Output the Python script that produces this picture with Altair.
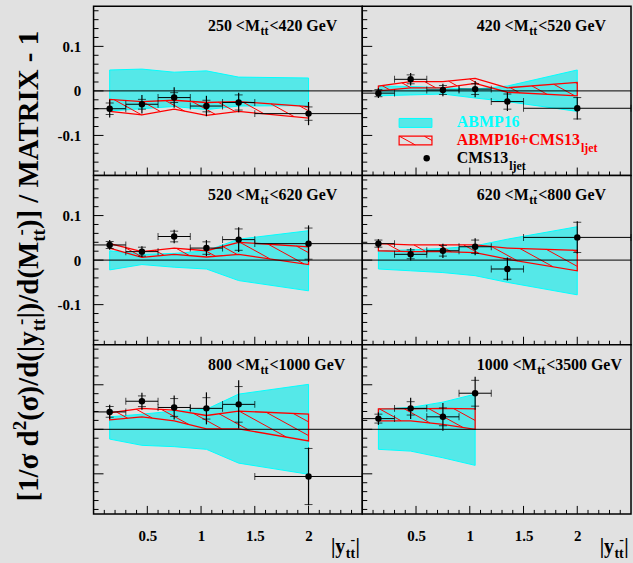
import altair as alt
import numpy as np
import pandas as pd

# ---------------- data ----------------
BIN_LO = [0.0, 0.3, 0.6, 0.9, 1.2, 1.5]
BIN_HI = [0.3, 0.6, 0.9, 1.2, 1.5, 2.5]
BIN_C = [0.15, 0.45, 0.75, 1.05, 1.35, 2.0]

MTT_LO = [250, 420, 520, 620, 800, 1000]
MTT_HI = [420, 520, 620, 800, 1000, 3500]
NBINS = [6, 6, 6, 6, 6, 4]

CMS_VAL = [
    [-0.040, -0.030, -0.015, -0.034, -0.026, -0.051],
    [-0.005, 0.026, 0.002, 0.004, -0.024, -0.039],
    [0.034, 0.019, 0.053, 0.027, 0.046, 0.037],
    [0.037, 0.013, 0.021, 0.030, -0.020, 0.051],
    [0.039, 0.063, 0.049, 0.047, 0.056, -0.106],
    [0.024, 0.047, 0.028, 0.081],
]
CMS_STAT = [
    [0.013, 0.011, 0.011, 0.013, 0.017, 0.015],
    [0.008, 0.010, 0.010, 0.012, 0.017, 0.024],
    [0.008, 0.010, 0.012, 0.014, 0.024, 0.035],
    [0.008, 0.010, 0.012, 0.015, 0.023, 0.034],
    [0.012, 0.012, 0.020, 0.024, 0.040, 0.063],
    [0.010, 0.015, 0.020, 0.029],
]
CMS_TOT = [
    [0.020, 0.021, 0.023, 0.023, 0.022, 0.026],
    [0.011, 0.014, 0.014, 0.018, 0.021, 0.025],
    [0.011, 0.012, 0.015, 0.018, 0.028, 0.041],
    [0.010, 0.014, 0.016, 0.019, 0.026, 0.036],
    [0.016, 0.019, 0.027, 0.036, 0.054, 0.065],
    [0.014, 0.024, 0.031, 0.037],
]
ABMP_UP = [
    [0.047, 0.049, 0.042, 0.045, 0.031, 0.029],
    [0.011, 0.010, 0.007, 0.004, 0.011, 0.047],
    [0.021, 0.013, 0.015, 0.021, 0.047, 0.066],
    [0.021, 0.023, 0.026, 0.032, 0.047, 0.075],
    [0.028, 0.034, 0.041, 0.045, 0.079, 0.101],
    [0.045, 0.049, 0.061, 0.079],
]
ABMP_DN = [
    [-0.045, -0.040, -0.035, -0.042, -0.034, -0.033],
    [-0.011, -0.009, -0.007, -0.016, -0.024, -0.046],
    [-0.022, -0.010, -0.016, -0.020, -0.046, -0.069],
    [-0.020, -0.024, -0.028, -0.035, -0.050, -0.078],
    [-0.022, -0.036, -0.039, -0.045, -0.076, -0.101],
    [-0.045, -0.049, -0.064, -0.081],
]
FIT_UP = [
    [-0.019, -0.024, -0.021, -0.026, -0.024, -0.035],
    [0.011, 0.021, 0.021, 0.028, 0.007, 0.019],
    [0.037, 0.019, 0.027, 0.021, 0.040, 0.030],
    [0.037, 0.034, 0.034, 0.034, 0.027, 0.022],
    [0.037, 0.047, 0.043, 0.031, 0.041, 0.034],
    [0.046, 0.046, 0.047, 0.046],
]
FIT_DN = [
    [-0.046, -0.054, -0.041, -0.055, -0.046, -0.061],
    [0.000, 0.007, 0.007, 0.017, -0.003, -0.011],
    [0.027, 0.006, 0.013, 0.007, 0.013, -0.010],
    [0.021, 0.019, 0.019, 0.017, 0.002, -0.024],
    [0.021, 0.028, 0.019, 0.001, 0.001, -0.026],
    [0.019, 0.019, 0.011, 0.000],
]

X_TICK_VALS = [0.5, 1.0, 1.5, 2.0]
X_TICK_LABELS = ["0.5", "1", "1.5", "2"]
X_MINOR = [0.1, 0.2, 0.3, 0.4, 0.6, 0.7, 0.8, 0.9, 1.1, 1.2, 1.3, 1.4,
           1.6, 1.7, 1.8, 1.9, 2.1, 2.2, 2.3, 2.4]
Y_TICK_VALS = [-0.1, 0.0, 0.1]
Y_TICK_LABELS = ["-0.1", "0", "0.1"]
Y_MINOR = [-0.18, -0.16, -0.14, -0.12, -0.08, -0.06, -0.04, -0.02,
           0.02, 0.04, 0.06, 0.08, 0.12, 0.14, 0.16, 0.18]

LEG_LABELS = ["ABMP16", "ABMP16+CMS13", "CMS13"]
LEG_SUB = "ljet"

# ---------------- style ----------------
FONT = "Liberation Serif"
CYAN = "#00ffff"
CYAN_FILL = "#55e8e8"
RED = "#ff0000"
BG = "#e1e1e1"

W, H = 270, 170
XDOM = [0.0, 2.5]
YDOM = [-0.19, 0.19]
PXX = W / (XDOM[1] - XDOM[0])
PXY = H / (YDOM[1] - YDOM[0])
HATCH_SP = 25.0
HATCH_SLOPE = 0.55

TB = {' ': 250, '<': 570, '-': 333, '+': 570, '.': 250, '/': 278, '(': 333, ')': 333,
      '[': 333, ']': 333, '|': 220, 'A': 722, 'B': 667, 'C': 722, 'G': 778, 'M': 944,
      'P': 611, 'S': 556, 'V': 722, 'R': 722, 'T': 667, 'I': 389, 'X': 722, 'e': 444,
      'd': 556, 't': 333, 'y': 500, 'l': 278, 'j': 333, 'σ': 550}


def tw(s, size):
    return sum(TB.get(c, 500) for c in s) * size / 1000.0


def label_expr(vals, labs):
    s = "''"
    for v, l in reversed(list(zip(vals, labs))):
        s = f"(abs(datum.value - ({v})) < 1e-6 ? '{l}' : {s})"
    return s


def hatch_px(px, ptop, pbot, spacing=HATCH_SP, slope=HATCH_SLOPE):
    px = np.asarray(px, float)
    grid = np.arange(px[0], px[-1] + 1e-6, 0.25)
    gt = np.interp(grid, px, ptop)
    gb = np.interp(grid, px, pbot)
    segs = []
    kmin = int(np.floor((px[0] - gb.max() / slope) / spacing)) - 1
    kmax = int(np.ceil((px[-1] - gt.min() / slope) / spacing)) + 1
    for k in range(kmin, kmax + 1):
        ly = slope * (grid - k * spacing)
        inside = (ly >= gt) & (ly <= gb)
        if not inside.any():
            continue
        idx = np.flatnonzero(inside)
        br = np.flatnonzero(np.diff(idx) > 1)
        starts = np.r_[idx[0], idx[br + 1]]
        ends = np.r_[idx[br], idx[-1]]
        for a, b in zip(starts, ends):
            if grid[b] - grid[a] < 1.0:
                continue
            segs.append((grid[a], ly[a], grid[b], ly[b]))
    return segs


DUMMY = pd.DataFrame({"a": [0]})


def txt(s, x, y, size, color="black", dx=0.0, dy=0.0, angle=0):
    kw = dict(text=s, font=FONT, fontSize=size, fontWeight="bold", color=color,
              align="left", baseline="alphabetic", dx=float(dx), dy=float(dy))
    if angle:
        kw["angle"] = angle
    return alt.Chart(DUMMY).mark_text(**kw).encode(x=alt.value(x), y=alt.value(y))


def build_panel(i):
    n = NBINS[i]
    row, col = divmod(i, 2)
    xs = alt.Scale(domain=XDOM, nice=False, zero=False)
    ys = alt.Scale(domain=YDOM, nice=False, zero=False)
    if row == 2:
        xaxis = alt.Axis(values=X_TICK_VALS, labelExpr=label_expr(X_TICK_VALS, X_TICK_LABELS),
                         ticks=False, domain=False, grid=False, title=None, labelPadding=15,
                         labelFont=FONT, labelFontSize=15, labelFontWeight="bold",
                         labelColor="black")
    else:
        xaxis = None
    if col == 0 and row < 2:
        yaxis = alt.Axis(values=Y_TICK_VALS, labelExpr=label_expr(Y_TICK_VALS, Y_TICK_LABELS),
                         ticks=False, domain=False, grid=False, title=None, labelPadding=13,
                         labelFont=FONT, labelFontSize=15, labelFontWeight="bold",
                         labelColor="black")
    else:
        yaxis = None

    def X(f):
        return alt.X(f, type="quantitative", scale=xs, axis=xaxis)

    def Y(f):
        return alt.Y(f, type="quantitative", scale=ys, axis=yaxis)

    v = np.array(CMS_VAL[i])
    st = np.array(CMS_STAT[i])
    to = np.array(CMS_TOT[i])
    pts = pd.DataFrame({"c": BIN_C[:n], "lo": BIN_LO[:n], "hi": BIN_HI[:n], "v": v,
                        "tlo": v - to, "thi": v + to, "slo": v - st, "shi": v + st})
    band = pd.DataFrame({"c": BIN_C[:n], "aup": ABMP_UP[i], "adn": ABMP_DN[i],
                         "fup": FIT_UP[i], "fdn": FIT_DN[i]})

    segs = hatch_px(np.array(BIN_C[:n]) * PXX,
                    (YDOM[1] - np.array(FIT_UP[i])) * PXY,
                    (YDOM[1] - np.array(FIT_DN[i])) * PXY)
    hdf = pd.DataFrame({"x1": [s[0] / PXX for s in segs], "y1": [YDOM[1] - s[1] / PXY for s in segs],
                        "x2": [s[2] / PXX for s in segs], "y2": [YDOM[1] - s[3] / PXY for s in segs]})

    layers = []
    layers.append(alt.Chart(band).mark_area(fill=CYAN_FILL, stroke=CYAN, strokeWidth=1, opacity=1)
                  .encode(x=X("c"), y=Y("adn"), y2="aup"))
    if len(hdf):
        layers.append(alt.Chart(hdf).mark_rule(color=RED, strokeWidth=1)
                      .encode(x=X("x1"), y=Y("y1"), x2="x2", y2="y2"))
    layers.append(alt.Chart(band).mark_area(fillOpacity=0, stroke=RED, strokeWidth=1.3)
                  .encode(x=X("c"), y=Y("fdn"), y2="fup"))
    layers.append(alt.Chart(pd.DataFrame({"y": [0.0]})).mark_rule(color="black", strokeWidth=1)
                  .encode(y=Y("y")))
    # data points with error bars
    layers.append(alt.Chart(pts).mark_rule(color="black", strokeWidth=1)
                  .encode(x=X("lo"), x2="hi", y=Y("v")))
    for f in ["lo", "hi"]:
        layers.append(alt.Chart(pts).mark_tick(orient="vertical", size=7, thickness=1, color="black")
                      .encode(x=X(f), y=Y("v")))
    layers.append(alt.Chart(pts).mark_rule(color="black", strokeWidth=1.2)
                  .encode(x=X("c"), y=Y("tlo"), y2="thi"))
    for f in ["slo", "shi"]:
        layers.append(alt.Chart(pts).mark_tick(orient="horizontal", size=8, thickness=1, color="black")
                      .encode(x=X("c"), y=Y(f)))
    layers.append(alt.Chart(pts).mark_circle(size=42, color="black", opacity=1)
                  .encode(x=X("c"), y=Y("v")))
    # inner axis ticks
    layers.append(alt.Chart(pd.DataFrame({"t": Y_TICK_VALS})).mark_rule(color="black", strokeWidth=1)
                  .encode(y=Y("t"), x=alt.value(0), x2=alt.value(10)))
    layers.append(alt.Chart(pd.DataFrame({"t": Y_MINOR})).mark_rule(color="black", strokeWidth=1)
                  .encode(y=Y("t"), x=alt.value(0), x2=alt.value(5)))
    layers.append(alt.Chart(pd.DataFrame({"t": X_TICK_VALS})).mark_rule(color="black", strokeWidth=1)
                  .encode(x=X("t"), y=alt.value(H), y2=alt.value(H - 8)))
    layers.append(alt.Chart(pd.DataFrame({"t": X_MINOR})).mark_rule(color="black", strokeWidth=1)
                  .encode(x=X("t"), y=alt.value(H), y2=alt.value(H - 4)))

    # panel title  "lo <M_tt̄<hi GeV"
    m1 = f"{MTT_LO[i]} <M"
    m2 = f"<{MTT_HI[i]} GeV"
    w1 = tw(m1, 16) + 0.5
    layers.append(txt(m1, 115, 25, 16))
    layers.append(txt("tt", 115, 25, 12, dx=w1, dy=4))
    layers.append(txt("-", 115, 25, 12, dx=w1 + tw("t", 12), dy=-6.5))
    layers.append(txt(m2, 115, 25, 16, dx=w1 + tw("tt", 12) + 1))

    # legend in the top-right panel
    if i == 1:
        layers.append(alt.Chart(DUMMY).mark_rect(fill=CYAN_FILL, stroke=CYAN, strokeWidth=1)
                      .encode(x=alt.value(37), x2=alt.value(70), y=alt.value(112.7), y2=alt.value(121.7)))
        for s in hatch_px([37, 70], [130.5, 130.5], [139.3, 139.3]):
            layers.append(alt.Chart(DUMMY).mark_rule(color=RED, strokeWidth=1)
                          .encode(x=alt.value(float(s[0])), y=alt.value(float(s[1])),
                                  x2=alt.value(float(s[2])), y2=alt.value(float(s[3]))))
        layers.append(alt.Chart(DUMMY).mark_rect(fillOpacity=0, stroke=RED, strokeWidth=1.2)
                      .encode(x=alt.value(37), x2=alt.value(70), y=alt.value(130.5), y2=alt.value(139.3)))
        layers.append(alt.Chart(DUMMY).mark_circle(size=42, color="black", opacity=1)
                      .encode(x=alt.value(64.7), y=alt.value(152.7)))
        layers.append(txt(LEG_LABELS[0], 95, 121.7, 16, color=CYAN))
        layers.append(txt(LEG_LABELS[1], 95, 139.3, 16, color=RED))
        layers.append(txt(LEG_SUB, 95, 139.3, 12, color=RED, dx=tw(LEG_LABELS[1], 16) + 1, dy=7))
        layers.append(txt(LEG_LABELS[2], 95, 157.7, 16))
        layers.append(txt(LEG_SUB, 95, 157.7, 12, dx=tw(LEG_LABELS[2], 16) + 1, dy=7))

    # x-axis title |y_tt̄| in bottom panels
    if row == 2:
        bx, by = 238.5, 209
        d = 0.0
        layers.append(txt("|", bx, by, 20, dx=d)); d += tw("|", 20)
        layers.append(txt("y", bx, by, 20, dx=d)); d += tw("y", 20) + 0.5
        layers.append(txt("tt", bx, by, 14, dx=d, dy=5))
        layers.append(txt("-", bx, by, 14, dx=d + tw("t", 14), dy=-9)); d += tw("tt", 14) + 0.5
        layers.append(txt("|", bx, by, 20, dx=d))

    # rotated y-axis title on the middle-left panel
    if i == 2:
        pieces = [("[1/σ d", 29, 0), ("2", 19, -12), ("(σ)/d(|y", 29, 0), ("tt", 19, 7),
                  ("|)/d(M", 29, 0), ("tt", 19, 7), (")] / MATRIX - 1", 29, 0)]
        total = sum(tw(p[0], p[1]) for p in pieces)
        ax, ay = -56, 90 + total / 2.0
        d = 0.0
        for s, size, dy in pieces:
            layers.append(txt(s, ax, ay, size, dx=d, dy=dy, angle=270))
            if s == "tt":
                layers.append(txt("-", ax, ay, 19, dx=d + tw("t", 19), dy=-11, angle=270))
            d += tw(s, size)

    return alt.layer(*layers).properties(width=W, height=H)


panels = [build_panel(i) for i in range(6)]
chart = alt.concat(*panels, columns=2, spacing=0, bounds="flush").properties(
    padding={"left": 10, "top": 4, "right": 0, "bottom": 0}
).configure(background=BG).configure_view(stroke="black", strokeWidth=1.5, fill=BG)

chart.save("out.html", embed_options={"renderer": "svg", "actions": False})
